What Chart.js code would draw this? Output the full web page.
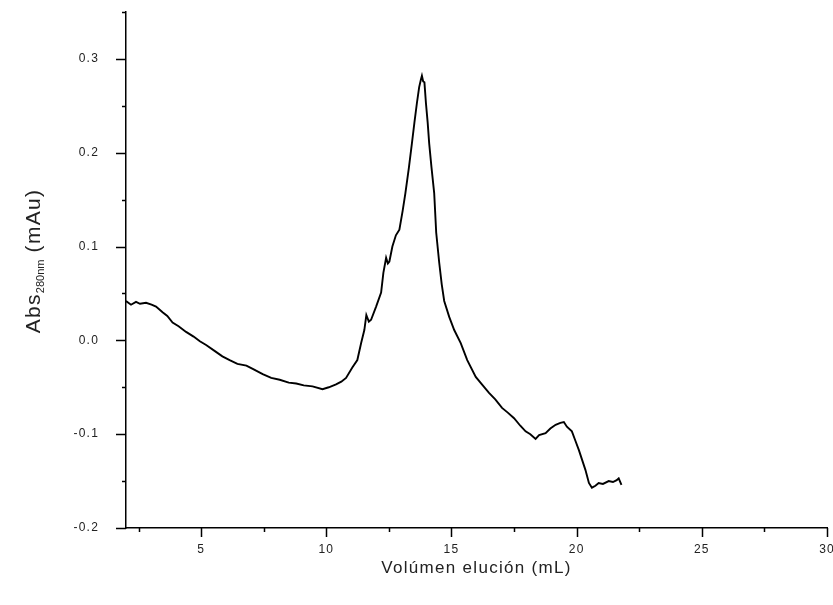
<!DOCTYPE html>
<html>
<head>
<meta charset="utf-8">
<script src="https://cdn.jsdelivr.net/npm/chart.js@4/dist/chart.umd.min.js"></script>
<style>
html,body{margin:0;padding:0;background:#fff;}
#wrap{width:833px;height:605px;position:relative;}
</style>
</head>
<body>
<div id="wrap"><canvas id="c" width="833" height="605"></canvas></div>
<script>
// Elution volume (mL)
const volume = [2.00,2.2,2.4,2.56,2.8,3.02,3.2,3.46,3.65,3.86,4.1,4.40,4.7,4.95,5.2,5.58,5.85,6.14,6.45,6.81,7.1,7.46,7.8,8.14,8.5,8.80,9.1,9.45,9.85,10.1,10.39,10.6,10.79,11.04,11.24,11.39,11.52,11.60,11.70,11.79,11.99,12.19,12.28,12.39,12.46,12.52,12.64,12.78,12.92,13.05,13.16,13.30,13.42,13.52,13.62,13.71,13.78,13.82,13.87,13.92,13.98,14.05,14.11,14.20,14.31,14.39,14.51,14.61,14.71,14.91,15.11,15.37,15.63,15.97,16.25,16.50,16.75,17.02,17.25,17.50,17.75,17.96,18.15,18.36,18.5,18.76,18.95,19.16,19.35,19.49,19.61,19.81,19.95,20.09,20.35,20.49,20.61,20.75,20.88,21.05,21.28,21.45,21.6,21.68,21.79];
// Absorbance at 280 nm (mAu)
const absorbance = [0.042,0.038,0.041,0.039,0.040,0.038,0.036,0.030,0.026,0.019,0.015,0.009,0.004,-0.001,-0.005,-0.012,-0.017,-0.021,-0.025,-0.027,-0.031,-0.036,-0.040,-0.042,-0.045,-0.046,-0.048,-0.049,-0.052,-0.050,-0.047,-0.044,-0.040,-0.029,-0.021,-0.003,0.011,0.027,0.020,0.022,0.036,0.051,0.072,0.088,0.082,0.084,0.100,0.112,0.118,0.138,0.157,0.184,0.210,0.232,0.253,0.270,0.278,0.282,0.276,0.275,0.253,0.232,0.210,0.185,0.157,0.115,0.083,0.060,0.042,0.025,0.011,-0.003,-0.021,-0.039,-0.048,-0.056,-0.063,-0.072,-0.077,-0.083,-0.091,-0.097,-0.100,-0.105,-0.101,-0.099,-0.094,-0.090,-0.088,-0.087,-0.092,-0.097,-0.107,-0.117,-0.138,-0.152,-0.157,-0.155,-0.152,-0.153,-0.150,-0.151,-0.149,-0.147,-0.154];

const xTitle = 'Volúmen elución (mL)';
const yTitleMain = 'Abs';
const yTitleSub = '280nm';
const yTitleUnit = ' (mAu)';

const points = volume.map((v, i) => ({x: v, y: absorbance[i]}));

const FONT = "'Liberation Sans', Arial, sans-serif";

const spacingPlugin = {
  id: 'spacing',
  beforeDraw(chart) { chart.ctx.letterSpacing = '1.2px'; }
};

const ticksPlugin = {
  id: 'tickmarks',
  afterDraw(chart) {
    const ctx = chart.ctx;
    const xs = chart.scales.x, ys = chart.scales.y;
    const ca = chart.chartArea;
    ctx.save();
    ctx.strokeStyle = '#000';
    ctx.lineWidth = 1.5;
    ctx.beginPath();
    xs.ticks.forEach(t => {
      const px = Math.round(xs.getPixelForValue(t.value)) + 0.5;
      const major = Math.abs(t.value / 5 - Math.round(t.value / 5)) < 1e-6;
      const len = major ? 9 : 4;
      ctx.moveTo(px, ca.bottom);
      ctx.lineTo(px, ca.bottom + len);
    });
    ys.ticks.forEach(t => {
      const py = Math.round(ys.getPixelForValue(t.value)) + 0.5;
      const major = Math.abs(t.value * 10 - Math.round(t.value * 10)) < 1e-6;
      const len = major ? 10 : 4;
      ctx.moveTo(ca.left, py);
      ctx.lineTo(ca.left - len, py);
    });
    ctx.stroke();

    // X title
    ctx.fillStyle = '#222';
    ctx.letterSpacing = '1.3px';
    ctx.font = '17px ' + FONT;
    ctx.textAlign = 'center';
    ctx.textBaseline = 'middle';
    ctx.fillText(xTitle, (ca.left + ca.right) / 2, 568);

    // Y title with subscript
    ctx.translate(40, 261);
    ctx.rotate(-Math.PI / 2);
    ctx.textBaseline = 'alphabetic';
    ctx.textAlign = 'left';
    const mainFont = '21px ' + FONT;
    const subFont = '11px ' + FONT;
    ctx.font = mainFont;
    ctx.letterSpacing = '1.3px';
    const w1 = ctx.measureText(yTitleMain).width;
    const w3 = ctx.measureText(yTitleUnit).width;
    ctx.font = subFont;
    ctx.letterSpacing = '0px';
    const w2 = ctx.measureText(yTitleSub).width;
    let x0 = -(w1 + w2 + w3) / 2;
    ctx.font = mainFont;
    ctx.letterSpacing = '1.3px';
    ctx.fillText(yTitleMain, x0, 0);
    ctx.font = subFont;
    ctx.letterSpacing = '0px';
    ctx.fillText(yTitleSub, x0 + w1, 4);
    ctx.font = mainFont;
    ctx.letterSpacing = '1.3px';
    ctx.fillText(yTitleUnit, x0 + w1 + w2, 0);
    ctx.restore();
  }
};

new Chart(document.getElementById('c'), {
  type: 'line',
  data: {
    datasets: [{
      data: points,
      borderColor: '#000',
      borderWidth: 1.9,
      pointRadius: 0,
      tension: 0,
      fill: false
    }]
  },
  options: {
    responsive: false,
    animation: false,
    events: [],
    layout: {padding: {left: 0, top: 12, right: 6, bottom: 0}},
    plugins: {legend: {display: false}, tooltip: {enabled: false}},
    scales: {
      x: {
        type: 'linear',
        min: 2, max: 30,
        grid: {display: false},
        border: {display: true, color: '#000', width: 1.5},
        afterFit(s) { s.height = 77; s.paddingLeft = 0; s.paddingRight = 6; },
        ticks: {
          stepSize: 2.5,
          includeBounds: false,
          autoSkip: false,
          maxRotation: 0,
          padding: 6,
          color: '#222',
          font: {family: FONT, size: 12},
          callback(v) { return Math.abs(v / 5 - Math.round(v / 5)) < 1e-6 ? String(Math.round(v)) : ''; }
        }
      },
      y: {
        type: 'linear',
        min: -0.2, max: 0.35,
        grid: {display: false},
        border: {display: true, color: '#000', width: 1.5},
        afterFit(s) { s.width = 126; s.paddingTop = 0; s.paddingBottom = 0; },
        ticks: {
          stepSize: 0.05,
          includeBounds: false,
          autoSkip: false,
          padding: 19,
          color: '#222',
          font: {family: FONT, size: 12},
          callback(v) { return Math.abs(v * 10 - Math.round(v * 10)) < 1e-6 ? v.toFixed(1) : ''; }
        }
      }
    }
  },
  plugins: [spacingPlugin, ticksPlugin]
});
</script>
</body>
</html>
